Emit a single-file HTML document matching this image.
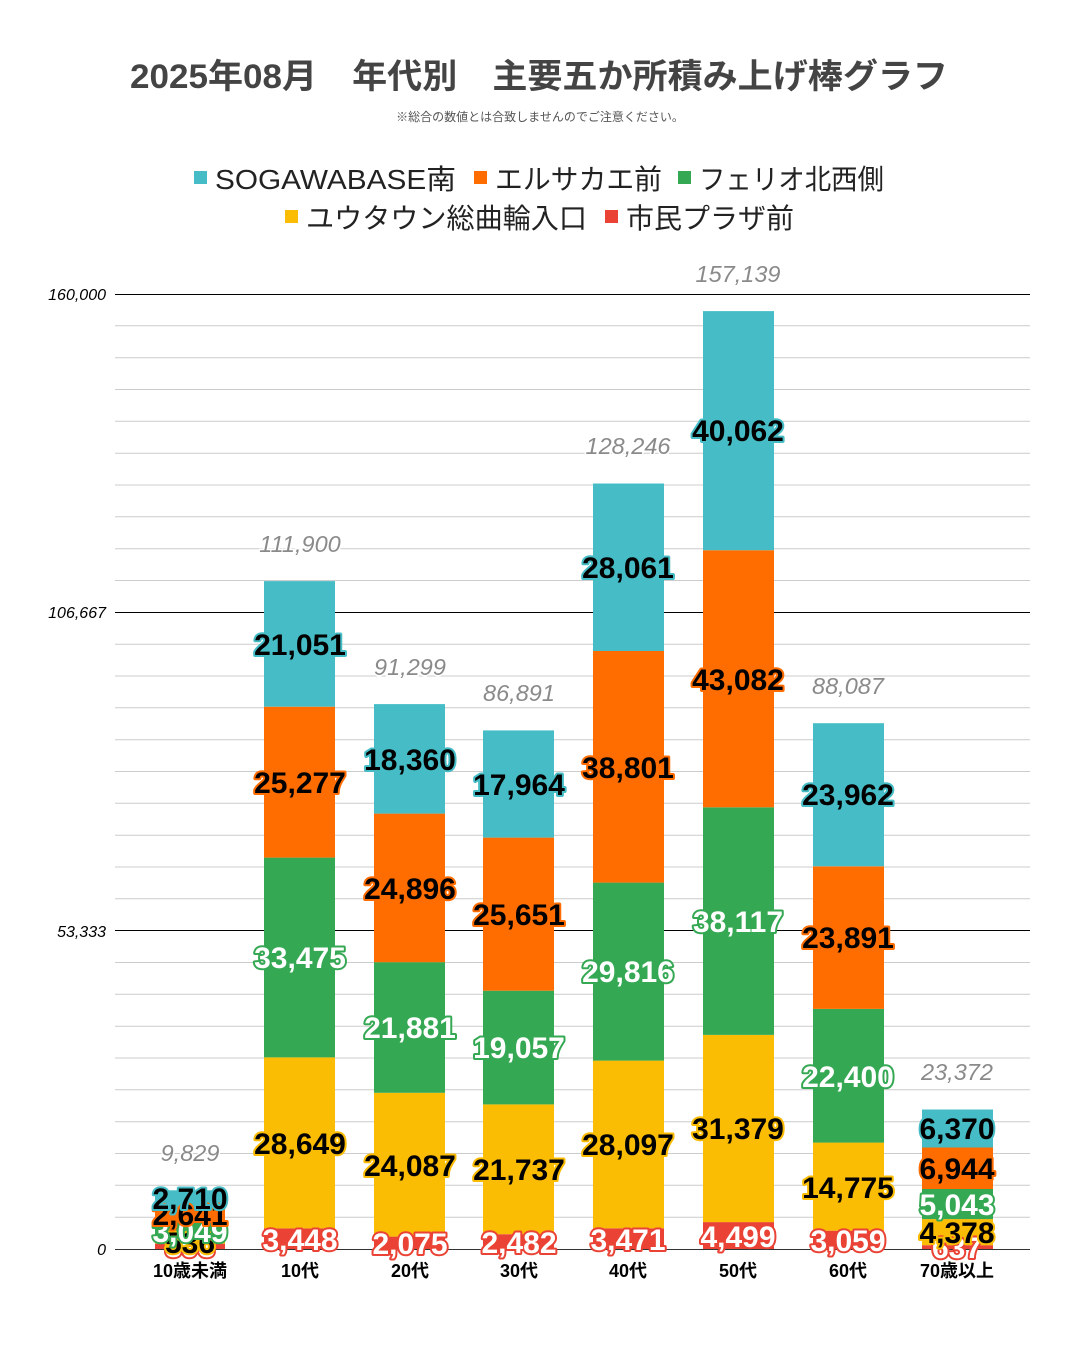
<!DOCTYPE html>
<html><head><meta charset="utf-8"><style>
html,body{margin:0;padding:0;background:#fff;}
svg{display:block;font-family:"Liberation Sans","Noto Sans CJK JP",sans-serif;}
.g{stroke:#cccccc;stroke-width:1}
.m{stroke:#000;stroke-width:1}
.ax{font-size:16px;font-style:italic;fill:#000;text-anchor:end}
.tot{font-size:23.5px;font-style:italic;fill:#8a8a8a;text-anchor:middle;stroke:#fff;stroke-width:3;paint-order:stroke}
.l{font-size:30px;font-weight:bold;text-anchor:middle;paint-order:stroke;stroke-width:4;stroke-linejoin:round}
.c{fill:#000;stroke:#46BDC6}.o{fill:#000;stroke:#FF6D01}.y{fill:#000;stroke:#FBBC04}
.gr{fill:#fff;stroke:#34A853}.r{fill:#fff;stroke:#EA4335}
.xl{font-size:18px;font-weight:bold;text-anchor:middle;fill:#000}
.lg{font-size:28px;fill:#222}
</style></head><body>
<svg width="1085" height="1364" viewBox="0 0 1085 1364">
<rect width="1085" height="1364" fill="#fff"/>
<text x="130" y="88" font-size="34" font-weight="bold" fill="#444" textLength="818" lengthAdjust="spacingAndGlyphs">2025年08月　年代別　主要五か所積み上げ棒グラフ</text>
<text x="540" y="121" text-anchor="middle" font-size="12" fill="#555">※総合の数値とは合致しませんのでご注意ください。</text>
<rect x="194" y="171" width="13" height="13" fill="#46BDC6"/><text x="215" y="189" class="lg" textLength="241" lengthAdjust="spacingAndGlyphs">SOGAWABASE南</text>
<rect x="474" y="171" width="13" height="13" fill="#FF6D01"/><text x="495" y="189" class="lg" textLength="167" lengthAdjust="spacingAndGlyphs">エルサカエ前</text>
<rect x="678" y="171" width="13" height="13" fill="#34A853"/><text x="699" y="189" class="lg" textLength="185" lengthAdjust="spacingAndGlyphs">フェリオ北西側</text>
<rect x="285" y="210" width="13" height="13" fill="#FBBC04"/><text x="306" y="228" class="lg" textLength="281" lengthAdjust="spacingAndGlyphs">ユウタウン総曲輪入口</text>
<rect x="605" y="210" width="13" height="13" fill="#EA4335"/><text x="626" y="228" class="lg" textLength="168" lengthAdjust="spacingAndGlyphs">市民プラザ前</text>
<g>
<line class="g" x1="115" x2="1030" y1="1217.2" y2="1217.2"/><line class="g" x1="115" x2="1030" y1="1185.3" y2="1185.3"/><line class="g" x1="115" x2="1030" y1="1153.5" y2="1153.5"/><line class="g" x1="115" x2="1030" y1="1121.7" y2="1121.7"/><line class="g" x1="115" x2="1030" y1="1089.8" y2="1089.8"/><line class="g" x1="115" x2="1030" y1="1058" y2="1058"/><line class="g" x1="115" x2="1030" y1="1026.2" y2="1026.2"/><line class="g" x1="115" x2="1030" y1="994.3" y2="994.3"/><line class="g" x1="115" x2="1030" y1="962.5" y2="962.5"/>
<line class="g" x1="115" x2="1030" y1="898.8" y2="898.8"/><line class="g" x1="115" x2="1030" y1="867" y2="867"/><line class="g" x1="115" x2="1030" y1="835.2" y2="835.2"/><line class="g" x1="115" x2="1030" y1="803.3" y2="803.3"/><line class="g" x1="115" x2="1030" y1="771.5" y2="771.5"/><line class="g" x1="115" x2="1030" y1="739.7" y2="739.7"/><line class="g" x1="115" x2="1030" y1="707.8" y2="707.8"/><line class="g" x1="115" x2="1030" y1="676" y2="676"/><line class="g" x1="115" x2="1030" y1="644.2" y2="644.2"/>
<line class="g" x1="115" x2="1030" y1="580.5" y2="580.5"/><line class="g" x1="115" x2="1030" y1="548.7" y2="548.7"/><line class="g" x1="115" x2="1030" y1="516.8" y2="516.8"/><line class="g" x1="115" x2="1030" y1="485" y2="485"/><line class="g" x1="115" x2="1030" y1="453.2" y2="453.2"/><line class="g" x1="115" x2="1030" y1="421.3" y2="421.3"/><line class="g" x1="115" x2="1030" y1="389.5" y2="389.5"/><line class="g" x1="115" x2="1030" y1="357.7" y2="357.7"/><line class="g" x1="115" x2="1030" y1="325.8" y2="325.8"/>
<line class="m" x1="115" x2="1030" y1="294.5" y2="294.5"/><line class="m" x1="115" x2="1030" y1="612.5" y2="612.5"/><line class="m" x1="115" x2="1030" y1="930.5" y2="930.5"/>
</g>
<text class="ax" x="106" y="300">160,000</text>
<text class="ax" x="106" y="618">106,667</text>
<text class="ax" x="106" y="937">53,333</text>
<text class="ax" x="106" y="1255">0</text>
<g>
<rect x="155" y="1243.7" width="70" height="5.3" fill="#EA4335"/><rect x="155" y="1240.5" width="70" height="3.2" fill="#FBBC04"/><rect x="155" y="1222.3" width="70" height="18.2" fill="#34A853"/><rect x="155" y="1206.5" width="70" height="15.8" fill="#FF6D01"/><rect x="155" y="1190.3" width="70" height="16.2" fill="#46BDC6"/>
<rect x="264" y="1228.4" width="71" height="20.6" fill="#EA4335"/><rect x="264" y="1057.4" width="71" height="171" fill="#FBBC04"/><rect x="264" y="857.6" width="71" height="199.8" fill="#34A853"/><rect x="264" y="706.7" width="71" height="150.9" fill="#FF6D01"/><rect x="264" y="581.1" width="71" height="125.6" fill="#46BDC6"/>
<rect x="374" y="1236.6" width="71" height="12.4" fill="#EA4335"/><rect x="374" y="1092.8" width="71" height="143.8" fill="#FBBC04"/><rect x="374" y="962.2" width="71" height="130.6" fill="#34A853"/><rect x="374" y="813.6" width="71" height="148.6" fill="#FF6D01"/><rect x="374" y="704.1" width="71" height="109.5" fill="#46BDC6"/>
<rect x="483" y="1234.2" width="71" height="14.8" fill="#EA4335"/><rect x="483" y="1104.4" width="71" height="129.8" fill="#FBBC04"/><rect x="483" y="990.7" width="71" height="113.7" fill="#34A853"/><rect x="483" y="837.6" width="71" height="153.1" fill="#FF6D01"/><rect x="483" y="730.4" width="71" height="107.2" fill="#46BDC6"/>
<rect x="593" y="1228.3" width="71" height="20.7" fill="#EA4335"/><rect x="593" y="1060.6" width="71" height="167.7" fill="#FBBC04"/><rect x="593" y="882.6" width="71" height="178" fill="#34A853"/><rect x="593" y="651" width="71" height="231.6" fill="#FF6D01"/><rect x="593" y="483.5" width="71" height="167.5" fill="#46BDC6"/>
<rect x="703" y="1222.1" width="71" height="26.9" fill="#EA4335"/><rect x="703" y="1034.9" width="71" height="187.2" fill="#FBBC04"/><rect x="703" y="807.3" width="71" height="227.6" fill="#34A853"/><rect x="703" y="550.2" width="71" height="257.1" fill="#FF6D01"/><rect x="703" y="311.1" width="71" height="239.1" fill="#46BDC6"/>
<rect x="813" y="1230.7" width="71" height="18.3" fill="#EA4335"/><rect x="813" y="1142.6" width="71" height="88.1" fill="#FBBC04"/><rect x="813" y="1008.9" width="71" height="133.7" fill="#34A853"/><rect x="813" y="866.3" width="71" height="142.6" fill="#FF6D01"/><rect x="813" y="723.2" width="71" height="143.1" fill="#46BDC6"/>
<rect x="922" y="1245.2" width="71" height="3.8" fill="#EA4335"/><rect x="922" y="1219.1" width="71" height="26.1" fill="#FBBC04"/><rect x="922" y="1189" width="71" height="30.1" fill="#34A853"/><rect x="922" y="1147.5" width="71" height="41.5" fill="#FF6D01"/><rect x="922" y="1109.5" width="71" height="38" fill="#46BDC6"/>
</g>
<line x1="115" x2="1030" y1="1249.5" y2="1249.5" stroke="#333" stroke-width="1"/>
<text class="tot" x="190" y="1161">9,829</text>
<text class="tot" x="300" y="552">111,900</text>
<text class="tot" x="410" y="675">91,299</text>
<text class="tot" x="519" y="701">86,891</text>
<text class="tot" x="628" y="454">128,246</text>
<text class="tot" x="738" y="282">157,139</text>
<text class="tot" x="848" y="694">88,087</text>
<text class="tot" x="957" y="1080">23,372</text>
<g>
<text class="l r" x="190" y="1257">893</text><text class="l y" x="190" y="1253">536</text><text class="l gr" x="190" y="1242">3,049</text><text class="l o" x="190" y="1225">2,641</text><text class="l c" x="190" y="1209">2,710</text>
<text class="l r" x="300" y="1250">3,448</text><text class="l y" x="300" y="1154">28,649</text><text class="l gr" x="300" y="968">33,475</text><text class="l o" x="300" y="793">25,277</text><text class="l c" x="300" y="655">21,051</text>
<text class="l r" x="410" y="1254">2,075</text><text class="l y" x="410" y="1176">24,087</text><text class="l gr" x="410" y="1038">21,881</text><text class="l o" x="410" y="899">24,896</text><text class="l c" x="410" y="770">18,360</text>
<text class="l r" x="519" y="1253">2,482</text><text class="l y" x="519" y="1180">21,737</text><text class="l gr" x="519" y="1058">19,057</text><text class="l o" x="519" y="925">25,651</text><text class="l c" x="519" y="795">17,964</text>
<text class="l r" x="628" y="1250">3,471</text><text class="l y" x="628" y="1155">28,097</text><text class="l gr" x="628" y="982">29,816</text><text class="l o" x="628" y="778">38,801</text><text class="l c" x="628" y="578">28,061</text>
<text class="l r" x="738" y="1247">4,499</text><text class="l y" x="738" y="1139">31,379</text><text class="l gr" x="738" y="932">38,117</text><text class="l o" x="738" y="690">43,082</text><text class="l c" x="738" y="441">40,062</text>
<text class="l r" x="848" y="1251">3,059</text><text class="l y" x="848" y="1198">14,775</text><text class="l gr" x="848" y="1087">22,400</text><text class="l o" x="848" y="948">23,891</text><text class="l c" x="848" y="805">23,962</text>
<text class="l r" x="957" y="1258">637</text><text class="l y" x="957" y="1243">4,378</text><text class="l gr" x="957" y="1215">5,043</text><text class="l o" x="957" y="1179">6,944</text><text class="l c" x="957" y="1139">6,370</text>
</g>
<text class="xl" x="190" y="1277">10歳未満</text>
<text class="xl" x="300" y="1277">10代</text>
<text class="xl" x="410" y="1277">20代</text>
<text class="xl" x="519" y="1277">30代</text>
<text class="xl" x="628" y="1277">40代</text>
<text class="xl" x="738" y="1277">50代</text>
<text class="xl" x="848" y="1277">60代</text>
<text class="xl" x="957" y="1277">70歳以上</text>
</svg>
</body></html>
